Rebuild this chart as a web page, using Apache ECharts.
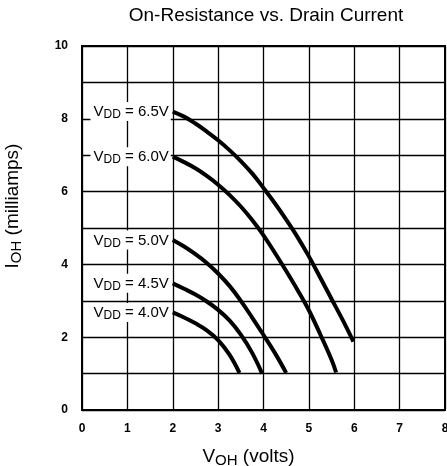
<!DOCTYPE html>
<html>
<head>
<meta charset="utf-8">
<script src="https://cdn.jsdelivr.net/npm/echarts@6/dist/echarts.min.js"></script>
<style>
html,body{margin:0;padding:0;background:#fff;}
#chart{width:447px;height:466px;}
</style>
</head>
<body>
<div id="chart"></div>
<script>
// curve data (VOH volts, IOH mA)
var vdd65 = [[2, 8.2], [2.25, 8.06], [2.5, 7.87], [2.75, 7.65], [3, 7.41], [3.25, 7.14], [3.5, 6.84], [3.75, 6.5], [4, 6.1],
	[4.25, 5.68], [4.5, 5.23], [4.75, 4.75], [5, 4.22], [5.25, 3.64], [5.5, 3.05], [5.75, 2.46], [5.98, 1.88]];
var vdd60 = [[2, 6.96], [2.25, 6.81], [2.5, 6.64], [2.75, 6.43], [3, 6.19], [3.25, 5.91], [3.5, 5.59], [3.75, 5.22], [4, 4.8],
	[4.25, 4.32], [4.5, 3.82], [4.75, 3.3], [5, 2.74], [5.25, 2.08], [5.5, 1.38], [5.6, 1.03]];
var vdd50 = [[2, 4.67], [2.25, 4.49], [2.5, 4.28], [2.75, 4.04], [3, 3.75], [3.25, 3.41], [3.5, 3.0], [3.75, 2.54], [4, 2.06],
	[4.25, 1.57], [4.5, 1.02]];
var vdd45 = [[2, 3.48], [2.25, 3.33], [2.5, 3.17], [2.75, 2.98], [3, 2.75], [3.25, 2.46], [3.5, 2.07], [3.75, 1.57], [3.97, 1.0]];
var vdd40 = [[2, 2.68], [2.25, 2.54], [2.5, 2.38], [2.75, 2.19], [3, 1.92], [3.25, 1.52], [3.47, 1.02]];
var curveNames = ['6.5V', '6.0V', '5.0V', '4.5V', '4.0V'];
var curves = [vdd65, vdd60, vdd50, vdd45, vdd40];

var chart = echarts.init(document.getElementById('chart'));
var font = 'Liberation Sans, Arial, sans-serif';

function makeSeries(pts, name){
	var data = pts.map(function(p, i){
		if (i === 0) {
			return {
				value: p,
				label: {
					show: true,
					position: 'left',
					distance: 2,
					backgroundColor: '#fff',
					padding: [1, 2, 0, 3],
					formatter: '{v|V}{s|DD}{v| = ' + name + '}',
					rich: {
						v: {fontSize: 15, color: '#000', fontFamily: font},
						s: {fontSize: 12, color: '#000', fontFamily: font, verticalAlign: 'bottom', padding: [6, 0, 0, 0]}
					}
				}
			};
		}
		return {value: p};
	});
	return {
		name: name,
		type: 'line',
		smooth: 0.4,
		symbol: 'circle',
		symbolSize: 0,
		lineStyle: {color: '#000', width: 4},
		itemStyle: {color: '#000'},
		data: data,
		z: 5
	};
}

var option = {
	animation: false,
	backgroundColor: '#fff',
	title: {
		text: 'On-Resistance vs. Drain Current',
		left: 261,
		top: 1,
		textAlign: 'center',
		textStyle: {fontSize: 19, fontWeight: 'normal', color: '#000', fontFamily: font}
	},
	grid: {left: 82, right: 2, top: 46, bottom: 56, outerBoundsMode: 'none', show: true, borderColor: '#000', borderWidth: 2},
	xAxis: {
		type: 'value',
		min: 0, max: 8, interval: 1,
		name: '{v|V}{s|OH}{v| (volts)}',
		nameLocation: 'middle',
		nameGap: 36,
		nameTextStyle: {
			padding: [0, 30, 0, 0],
			rich: {
				v: {fontSize: 19, color: '#000', fontFamily: font},
				s: {fontSize: 15, color: '#000', fontFamily: font, verticalAlign: 'bottom', padding: [7, 0, 0, 0]}
			}
		},
		axisLine: {show: false},
		axisTick: {show: false},
		axisLabel: {color: '#000', fontSize: 12, fontWeight: 'bold', fontFamily: font, margin: 13},
		splitLine: {show: true, lineStyle: {color: '#000', width: 1.3}}
	},
	yAxis: {
		type: 'value',
		min: 0, max: 10, interval: 1,
		name: '{v|I}{s|OH}{v| (milliamps)}',
		nameLocation: 'middle',
		nameGap: 58,
		nameTextStyle: {
			padding: [0, 0, 0, 44],
			rich: {
				v: {fontSize: 19, color: '#000', fontFamily: font},
				s: {fontSize: 15, color: '#000', fontFamily: font, verticalAlign: 'bottom', padding: [7, 0, 0, 0]}
			}
		},
		axisLine: {show: false},
		axisTick: {show: false},
		axisLabel: {
			color: '#000', fontSize: 12, fontWeight: 'bold', fontFamily: font, margin: 14,
			formatter: function(v){ return v % 2 === 0 ? String(v) : ''; }
		},
		splitLine: {show: true, lineStyle: {color: '#000', width: 1.3}}
	},
	series: curves.map(function(c, i){ return makeSeries(c, curveNames[i]); })
};
chart.setOption(option);
</script>
</body>
</html>
